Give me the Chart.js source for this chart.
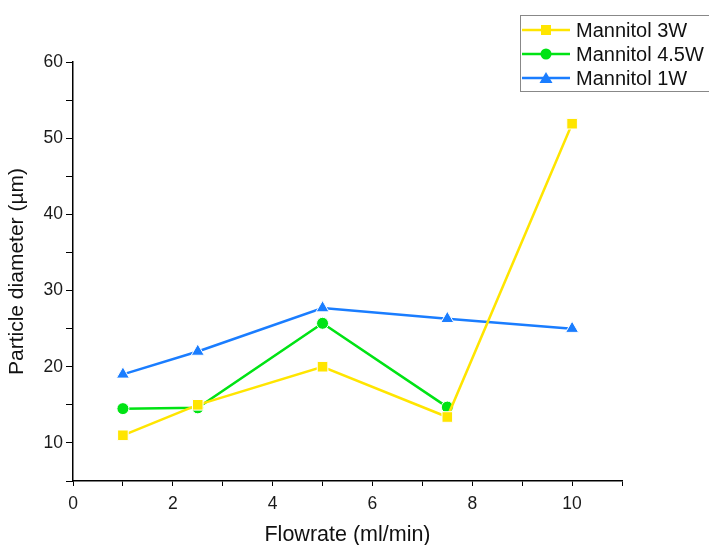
<!DOCTYPE html>
<html>
<head>
<meta charset="utf-8">
<script src="https://cdn.jsdelivr.net/npm/chart.js@4/dist/chart.umd.min.js"></script>
<style>
  html, body { margin: 0; padding: 0; background: #fff; }
  #wrap { width: 709px; height: 545px; position: relative; }
</style>
</head>
<body>
<div id="wrap"><canvas id="psdChart"></canvas></div>
<script>
// flowrate (ml/min) vs particle diameter (um)
const flowrates = [1, 2.5, 5, 7.5, 10];
const mannitol3W = [11, 15, 20, 13.4, 51.9];
const mannitol45W = [14.5, 14.6, 25.7, 14.7];
const mannitol1W = [19, 22, 27.7, 26.3, 25];
const seriesLabels = ['Mannitol 3W', 'Mannitol 4.5W', 'Mannitol 1W'];

const toPoints = (ys) => ys.map((y, i) => ({ x: flowrates[i], y: y }));

const font = 'Liberation Sans, Arial, sans-serif';

// legend box drawn top right, partly over the plot like the original
const boxLegend = {
    id: 'boxLegend',
    afterDraw(chart) {
        const ctx = chart.ctx;
        const left = 520, top = 15, w = 200, h = 76;
        ctx.save();
        ctx.strokeStyle = '#888';
        ctx.lineWidth = 1;
        ctx.strokeRect(left + 0.5, top + 0.5, w, h);
        chart.data.datasets.forEach((ds, i) => {
            const y = top + 15 + i * 24;
            ctx.strokeStyle = ds.borderColor;
            ctx.lineWidth = 2.5;
            ctx.beginPath();
            ctx.moveTo(left + 2, y);
            ctx.lineTo(left + 50, y);
            ctx.stroke();
            ctx.fillStyle = ds.borderColor;
            const mx = left + 26;
            ctx.beginPath();
            if (ds.pointStyle === 'rect') {
                ctx.rect(mx - 5, y - 5, 10, 10);
            } else if (ds.pointStyle === 'circle') {
                ctx.arc(mx, y, 5.5, 0, Math.PI * 2);
            } else {
                ctx.moveTo(mx, y - 6);
                ctx.lineTo(mx + 6.5, y + 5);
                ctx.lineTo(mx - 6.5, y + 5);
                ctx.closePath();
            }
            ctx.fill();
            ctx.fillStyle = '#111';
            ctx.font = '20px ' + font;
            ctx.textBaseline = 'middle';
            ctx.fillText(ds.label, left + 56, y + 1);
        });
        ctx.restore();
    }
};

new Chart(document.getElementById('psdChart'), {
    type: 'line',
    data: {
        datasets: [{
            label: seriesLabels[0],
            data: toPoints(mannitol3W),
            borderColor: '#ffe500',
            backgroundColor: '#ffe500',
            pointStyle: 'rect',
            pointRadius: 7.5,
            pointBorderColor: '#fff',
            pointBorderWidth: 1,
            borderWidth: 2.5
        },
        {
            label: seriesLabels[1],
            data: toPoints(mannitol45W),
            borderColor: '#00e314',
            backgroundColor: '#00e314',
            pointStyle: 'circle',
            pointRadius: 6,
            pointBorderColor: '#fff',
            pointBorderWidth: 1,
            borderWidth: 2.5
        },
        {
            label: seriesLabels[2],
            data: toPoints(mannitol1W),
            borderColor: '#1a7dff',
            backgroundColor: '#1a7dff',
            pointStyle: 'triangle',
            pointRadius: 7.5,
            pointBorderColor: '#fff',
            pointBorderWidth: 1,
            borderWidth: 2.5
        }]
    },
    options: {
        responsive: true,
        maintainAspectRatio: false,
        animation: false,
        layout: { padding: { top: 62, right: 87, left: 0, bottom: 0 } },
        plugins: {
            legend: { display: false },
            tooltip: { enabled: false }
        },
        scales: {
            x: {
                type: 'linear',
                min: 0,
                max: 11,
                afterFit(scale) { scale.height = 64; },
                ticks: {
                    stepSize: 1,
                    autoSkip: false,
                    maxRotation: 0,
                    color: '#1a1a1a',
                    padding: 8,
                    font: { family: font, size: 17.5 },
                    callback: (v) => (v % 2 === 0 ? v : '')
                },
                grid: { drawOnChartArea: false, drawTicks: true, tickLength: 5, color: '#000' },
                border: { color: '#000', width: 1.5 },
                title: {
                    display: true,
                    text: 'Flowrate (ml/min)',
                    color: '#111',
                    padding: { top: 8, bottom: -3 },
                    font: { family: font, size: 21.5 }
                }
            },
            y: {
                min: 5,
                max: 60,
                afterFit(scale) { scale.width = 73; },
                ticks: {
                    stepSize: 5,
                    autoSkip: false,
                    color: '#1a1a1a',
                    padding: 3,
                    font: { family: font, size: 17.5 },
                    callback: (v) => (v % 10 === 0 ? v : '')
                },
                grid: { drawOnChartArea: false, drawTicks: true, tickLength: 7, color: '#000' },
                border: { color: '#000', width: 1.5 },
                title: {
                    display: true,
                    text: 'Particle diameter (µm)',
                    color: '#111',
                    padding: { top: 5, bottom: 0 },
                    font: { family: font, size: 21 }
                }
            }
        }
    },
    plugins: [boxLegend]
});
</script>
</body>
</html>
